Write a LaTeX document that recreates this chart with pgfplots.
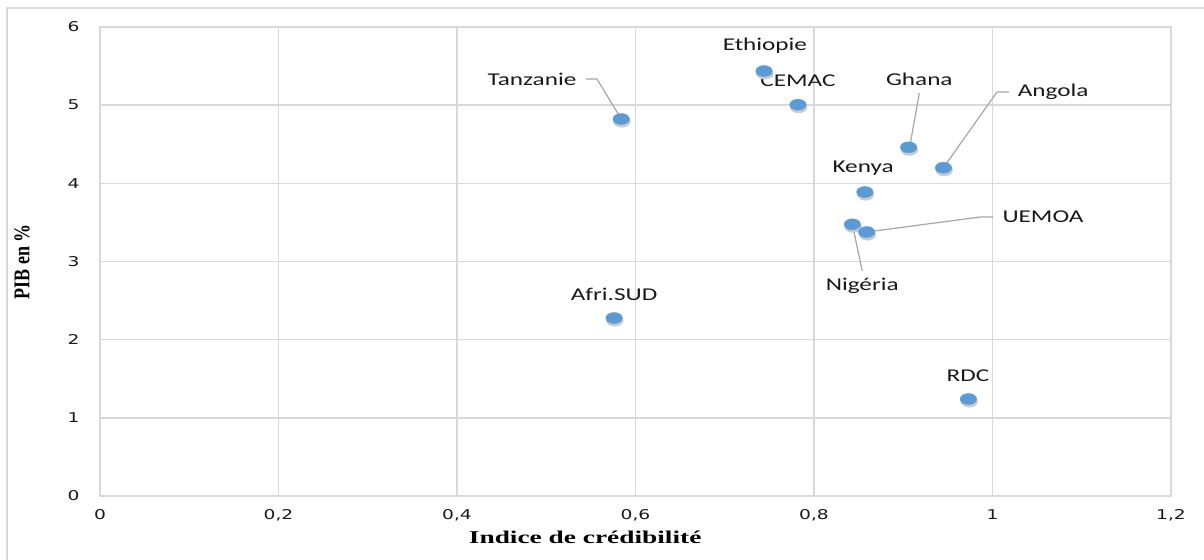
\documentclass[border=0pt]{standalone}
\usepackage{fontspec}
\usepackage{pgfplots}
\pgfplotsset{compat=1.18}
\setmainfont{Carlito}
\newfontfamily\lblfont[FakeStretch=1.4]{Carlito}
\newfontfamily\tickfont[FakeStretch=1.38]{DejaVu Sans}
\newfontfamily\titlefont[FakeStretch=1.52]{Liberation Serif}
\newfontfamily\ytitlefont{Liberation Serif}
\definecolor{pt}{HTML}{5B9BD5}
\definecolor{shad}{HTML}{C8CCD2}
\definecolor{gridc}{HTML}{D9D9D9}
\definecolor{leader}{HTML}{A6A6A6}

\pgfplotstableread{
x y
0.584 4.823
0.744 5.437
0.782 5.006
0.906 4.461
0.945 4.200
0.857 3.889
0.843 3.476
0.859 3.377
0.576 2.277
0.973 1.241
}\data

\begin{document}
\begin{tikzpicture}
\useasboundingbox (-100bp,-64bp) rectangle (1104bp,496bp);
\draw[gridc, line width=1.2bp] (-93bp,-70bp) -- (-93bp,488bp) -- (1110bp,488bp);
\begin{axis}[
  at={(0,0)}, anchor=south west,
  scale only axis, width=1071bp, height=469bp,
  xmin=0, xmax=1.2, ymin=0, ymax=6,
  xtick={0,0.2,0.4,0.6,0.8,1,1.2},
  xticklabels={0,{0,2},{0,4},{0,6},{0,8},1,{1,2}},
  ytick={0,1,2,3,4,5,6},
  yticklabels={0,1,2,3,4,5,6},
  grid=major,
  major grid style={gridc, line width=1.5bp},
  axis line style={gridc, line width=1.5bp},
  tick style={draw=none},
  tick label style={font=\tickfont\fontsize{13.5bp}{16bp}\selectfont, text=black!90},
  yticklabel style={xshift=-17bp},
  xticklabel style={yshift=-10bp},
  xlabel={Indice de crédibilité},
  ylabel={\scalebox{1}[1.25]{PIB en \%}},
  xlabel style={at={(axis description cs:0.453,-0.0874)}, anchor=center,
    font=\titlefont\bfseries\fontsize{18bp}{20bp}\selectfont},
  ylabel style={at={(axis description cs:-0.0728,0.5)}, anchor=center,
    font=\ytitlefont\bfseries\fontsize{18bp}{20bp}\selectfont},
  clip=false,
]
\addplot[color=shad, only marks, mark=*, mark size=5.8bp,
  mark options={xscale=1.45, fill=shad, draw=shad, xshift=0.5bp, yshift=-2.5bp}]
  table[x=x, y=y] {\data};
\addplot[color=pt, only marks, mark=*, mark size=5.5bp,
  mark options={xscale=1.5, fill=pt, draw=pt}]
  table[x=x, y=y] {\data};

\begin{scope}[leader, line width=1.2bp]
\draw (axis cs:0.5445,5.334) -- (axis cs:0.5569,5.334) -- (axis cs:0.584,4.823);
\draw (axis cs:0.918,5.155) -- (axis cs:0.9076,4.49);
\draw (axis cs:1.0185,5.168) -- (axis cs:1.005,5.168) -- (axis cs:0.945,4.20);
\draw (axis cs:1.0006,3.569) -- (axis cs:0.986,3.569) -- (axis cs:0.859,3.377);
\draw (axis cs:0.854,2.878) -- (axis cs:0.843,3.476);
\end{scope}

\begin{scope}[every node/.style={font=\lblfont\fontsize{18bp}{20bp}\selectfont, text=black!90, inner sep=0pt}]
\node at (axis cs:0.484,5.334) {Tanzanie};
\node at (axis cs:0.745,5.757) {Ethiopie};
\node at (axis cs:0.782,5.309) {CEMAC};
\node at (axis cs:0.918,5.334) {Ghana};
\node at (axis cs:1.068,5.168) {Angola};
\node at (axis cs:0.855,4.196) {Kenya};
\node at (axis cs:1.0566,3.569) {UEMOA};
\node at (axis cs:0.854,2.686) {Nigéria};
\node at (axis cs:0.576,2.584) {Afri.SUD};
\node at (axis cs:0.9725,1.535) {RDC};
\end{scope}
\end{axis}
\end{tikzpicture}
\end{document}
